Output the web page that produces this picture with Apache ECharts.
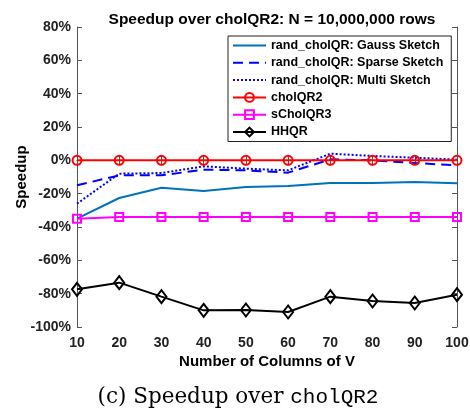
<!DOCTYPE html>
<html><head><meta charset="utf-8">
<script src="https://cdn.jsdelivr.net/npm/echarts@6/dist/echarts.min.js"></script>
<style>html,body{margin:0;padding:0;background:#fff}#c{width:470px;height:416px}</style>
</head><body><div id="c"></div>
<script>
const columns = [10, 20, 30, 40, 50, 60, 70, 80, 90, 100];
const gaussSketch = [-35, -22.6, -16.4, -18.4, -16, -15.4, -13.6, -13.6, -13, -13.8];
const sparseSketch = [-15, -9, -9, -5.6, -6, -7.4, 0.6, 0, -1.6, -3];
const multiSketch = [-26, -8, -7.6, -3.6, -5, -6, 4, 2.6, 1.6, 0.4];
const cholQR2 = [0, 0, 0, 0, 0, 0, 0, 0, 0, 0];
const sCholQR3 = [-35, -34, -34, -34, -34, -34, -34, -34, -34, -34];
const hhqr = [-77.4, -73.4, -81.8, -90, -89.8, -91, -81.8, -84.4, -85.6, -80.6];

const FONT = "'Liberation Sans', Arial, Helvetica, sans-serif";
const AX = '#555';
function pairs(ys){ return columns.map((x,i)=>[x, ys[i]]); }

function lineSeries(name, ys, color, type, symbol, size){
  const hasSym = !!symbol;
  return {
    name, type:'line', data: pairs(ys), xAxisIndex:0, yAxisIndex:0,
    symbol: symbol || 'circle', symbolSize: size || 8, showSymbol: hasSym,
    lineStyle:{color, width:2, type: type || 'solid'},
    itemStyle: hasSym
      ? {color:'rgba(255,255,255,0)', borderColor: color, borderWidth: 2}
      : {color:'rgba(255,255,255,0)', borderColor:'rgba(255,255,255,0)', borderWidth: 0},
    emphasis:{disabled:true}, animation:false
  };
}

const chart = echarts.init(document.getElementById('c'), null, {renderer:'canvas'});
chart.setOption({
  backgroundColor:'#fff',
  animation:false,
  title:{text:'Speedup over cholQR2: N = 10,000,000 rows', left:267, top:7, textAlign:'center',
    textStyle:{fontFamily:FONT, fontSize:15.5, fontWeight:'bold', color:'#000'}},
  grid:{left:77, right:13, top:27, bottom:89, containLabel:false, outerBoundsMode:'none'},
  legend:{
    orient:'vertical', left:228, top:36, itemWidth:33, itemHeight:11, itemGap:4.3,
    padding:[3,8,3,4], borderColor:'#222', borderWidth:1, backgroundColor:'#fff',
    textStyle:{fontFamily:FONT, fontSize:12.5, lineHeight:13, fontWeight:'bold', color:'#000'},
    data:['rand_cholQR: Gauss Sketch','rand_cholQR: Sparse Sketch','rand_cholQR: Multi Sketch','cholQR2','sCholQR3','HHQR']
  },
  xAxis:[{
    type:'value', min:10, max:100, interval:10, position:'bottom',
    name:'Number of Columns of V', nameLocation:'middle', nameGap:27, nameMoveOverlap:false,
    nameTextStyle:{fontFamily:FONT, fontSize:15, fontWeight:'bold', color:'#000'},
    axisLine:{lineStyle:{color:AX}}, axisTick:{inside:true, length:5, lineStyle:{color:AX}},
    axisLabel:{fontFamily:FONT, fontSize:14, fontWeight:'bold', color:'#222', margin:9},
    splitLine:{show:false}
  },{
    type:'value', min:10, max:100, interval:10, position:'top',
    axisLine:{lineStyle:{color:AX}}, axisTick:{inside:true, length:5, lineStyle:{color:AX}},
    axisLabel:{show:false}, splitLine:{show:false}
  }],
  yAxis:[{
    type:'value', min:-100, max:80, interval:20, position:'left',
    name:'Speedup', nameLocation:'middle', nameGap:48, nameMoveOverlap:false,
    nameTextStyle:{fontFamily:FONT, fontSize:15, fontWeight:'bold', color:'#000'},
    axisLine:{show:true, lineStyle:{color:AX}}, axisTick:{show:true, inside:true, length:5, lineStyle:{color:AX}},
    axisLabel:{fontFamily:FONT, fontSize:14, fontWeight:'bold', color:'#222', margin:6, formatter: v => v + '%'},
    splitLine:{show:false}
  },{
    type:'value', min:-100, max:80, interval:20, position:'right',
    axisLine:{show:true, lineStyle:{color:AX}}, axisTick:{show:true, inside:true, length:5, lineStyle:{color:AX}},
    axisLabel:{show:false}, splitLine:{show:false}
  }],
  series:[
    lineSeries('rand_cholQR: Gauss Sketch', gaussSketch, '#0072BD', 'solid'),
    lineSeries('rand_cholQR: Sparse Sketch', sparseSketch, '#0000FF', [10,6]),
    lineSeries('rand_cholQR: Multi Sketch', multiSketch, '#0000FF', [2,2]),
    lineSeries('cholQR2', cholQR2, '#FF0000', 'solid', 'circle', 9),
    lineSeries('sCholQR3', sCholQR3, '#FF00FF', 'solid', 'rect', 8),
    lineSeries('HHQR', hhqr, '#000000', 'solid', 'diamond', [10,13])
  ],
  graphic:[{
    type:'text', x:238, y:397,
    style:{
      text:'{a|(c) Speedup over }{b|cholQR2}', align:'center', verticalAlign:'middle',
      rich:{
        a:{fontFamily:"'DejaVu Serif', 'Liberation Serif', serif", fontSize:21.5, fill:'#000'},
        b:{fontFamily:"'Liberation Mono', 'DejaVu Sans Mono', monospace", fontSize:21, fill:'#000'}
      }
    }
  }]
});
</script></body></html>
